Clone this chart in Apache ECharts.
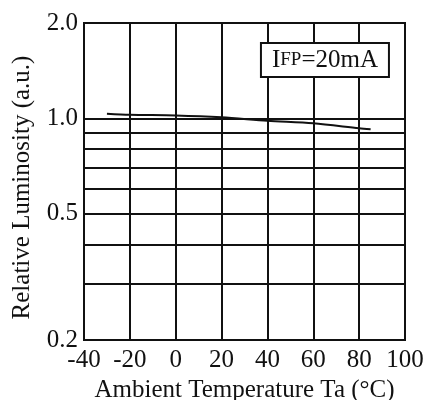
<!DOCTYPE html>
<html>
<head>
<meta charset="utf-8">
<script src="https://cdn.jsdelivr.net/npm/echarts@6/dist/echarts.min.js"></script>
<style>
  html, body { margin: 0; padding: 0; background: #fff; }
  #chart { width: 426px; height: 400px; }
</style>
</head>
<body>
<div id="chart"></div>
<script>
// ---- data ----
const temperature = [-30, -20, 0, 20, 40, 60, 80, 85];
const luminosity  = [1.035, 1.027, 1.022, 1.008, 0.983, 0.965, 0.931, 0.924];
const yGridValues = [0.2, 0.3, 0.4, 0.5, 0.6, 0.7, 0.8, 0.9, 1.0, 2.0];
const yTickValues = [0.2, 0.5, 1.0, 2.0];
const yTickLabels = ['0.2', '0.5', '1.0', '2.0'];
const xMin = -40, xMax = 100, xStep = 20;
const yMin = 0.2, yMax = 2.0;

const FONT = 'Liberation Serif';
const INK = '#111';
const FS = 25;

const markData = yGridValues.map(v => {
  const idx = yTickValues.indexOf(v);
  return {
    yAxis: v,
    label: idx >= 0
      ? { show: true, position: 'start', distance: 6, formatter: yTickLabels[idx],
          color: INK, fontFamily: FONT, fontSize: FS }
      : { show: false }
  };
});

const chart = echarts.init(document.getElementById('chart'), null, { renderer: 'canvas' });
chart.setOption({
  animation: false,
  backgroundColor: '#fff',
  title: {
    text: '{a|I}{b|FP}{a|=20mA}',
    right: 37,
    top: 43,
    padding: [5, 11, 4, 11],
    borderColor: INK,
    borderWidth: 2,
    backgroundColor: '#fff',
    textStyle: {
      fontWeight: 'normal',
      rich: {
        a: { fontFamily: FONT, fontSize: FS, fontWeight: 'normal', color: INK },
        b: { fontFamily: FONT, fontSize: 19, fontWeight: 'normal', color: INK }
      }
    }
  },
  grid: {
    left: 84, right: 21, top: 23, bottom: 60,
    containLabel: false,
    outerBoundsMode: 'none',
    show: true, borderColor: INK, borderWidth: 2, backgroundColor: 'transparent'
  },
  xAxis: {
    type: 'value',
    min: xMin, max: xMax, interval: xStep,
    axisLine: { show: true, lineStyle: { color: INK, width: 2 } },
    axisTick: { show: false },
    splitLine: { show: true, lineStyle: { color: INK, width: 2 } },
    axisLabel: { color: INK, fontFamily: FONT, fontSize: FS, margin: 8 },
    name: 'Ambient Temperature Ta (°C)',
    nameLocation: 'middle',
    nameGap: 36,
    nameTextStyle: { color: INK, fontFamily: FONT, fontSize: FS }
  },
  yAxis: {
    type: 'log',
    logBase: 10,
    min: yMin, max: yMax,
    axisLine: { show: true, lineStyle: { color: INK, width: 2 } },
    axisTick: { show: false },
    splitLine: { show: false },
    axisLabel: { show: false },
    name: 'Relative Luminosity (a.u.)',
    nameLocation: 'middle',
    nameGap: 49,
    nameTextStyle: { color: INK, fontFamily: FONT, fontSize: FS, padding: [0, 12, 0, 0] }
  },
  series: [
    {
      type: 'line',
      data: [],
      silent: true,
      markLine: {
        silent: true,
        symbol: ['none', 'none'],
        lineStyle: { color: INK, width: 2, type: 'solid' },
        emphasis: { disabled: true },
        data: markData
      }
    },
    {
      type: 'line',
      data: temperature.map((t, i) => [t, luminosity[i]]),
      smooth: 0.3,
      showSymbol: false,
      symbol: 'none',
      z: 5,
      lineStyle: { color: INK, width: 2 }
    }
  ]
});
</script>
</body>
</html>
